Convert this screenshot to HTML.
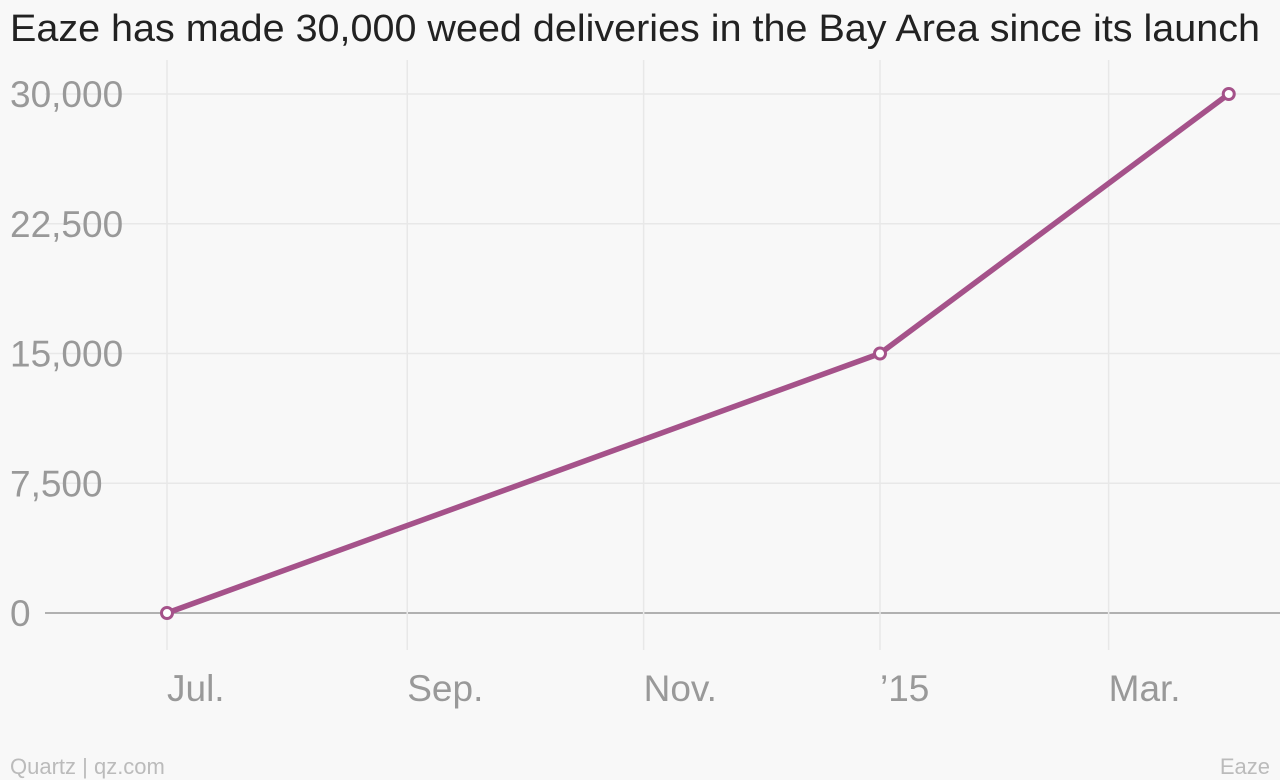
<!DOCTYPE html>
<html><head><meta charset="utf-8"><style>
html,body{margin:0;padding:0;background:#f8f8f8;}
svg{display:block;font-family:"Liberation Sans",sans-serif;}
</style></head><body>
<svg width="1280" height="780" id="c">
<text x="10" y="41" font-size="38" fill="#222" textLength="1250" lengthAdjust="spacingAndGlyphs">Eaze has made 30,000 weed deliveries in the Bay Area since its launch</text>
<text x="10" y="774" font-size="22" fill="#bbb">Quartz | qz.com</text>
<text x="1270" y="774" font-size="22" fill="#bbb" text-anchor="end">Eaze</text>
<g id="grid"></g><g id="plot"></g>
</svg>
<script>
const dates=["2014-07-01","2015-01-01","2015-04-01"];
const values=[0,15000,30000];
const yTicks=[0,7500,15000,22500,30000];
const yTickLabels=["0","7,500","15,000","22,500","30,000"];
const xTicks=["2014-07-01","2014-09-01","2014-11-01","2015-01-01","2015-03-01"];
const xTickLabels=["Jul.","Sep.","Nov.","’15","Mar."];
const NS="http://www.w3.org/2000/svg";
const t0=Date.parse("2014-07-01"),pxDay=713/184;
function x(d){return 167+(Date.parse(d)-t0)/86400000*pxDay;}
function y(v){return 613-v/30000*519;}
function mk(tag,a,p){const e=document.createElementNS(NS,tag);for(const k in a)e.setAttribute(k,a[k]);p.appendChild(e);return e;}
const g=document.getElementById('grid'),p=document.getElementById('plot');
yTicks.forEach((v,i)=>{
 const l=mk('line',{x1:45,x2:1280,y1:y(v),y2:y(v),stroke:v===0?'#999':'#e8e8e8','stroke-width':1.5},g);
 
 
 const t=mk('text',{x:10,y:y(v)+13,'font-size':37,fill:'#999'},g);t.textContent=yTickLabels[i];
 
 
});
xTicks.forEach((d,i)=>{
 const l=mk('line',{x1:x(d),x2:x(d),y1:60,y2:650,stroke:'#e8e8e8','stroke-width':1.5},g);
 
 
 const t=mk('text',{x:x(d),y:701,'font-size':37,fill:'#999'},g);t.textContent=xTickLabels[i];
 
 
});
const path=mk('polyline',{points:dates.map((d,i)=>x(d)+','+y(values[i])).join(' '),fill:'none',stroke:'#a5528a','stroke-width':5.5,'stroke-linejoin':'round'},p);


dates.forEach((d,i)=>{
 const c=mk('circle',{cx:x(d),cy:y(values[i]),r:5.5,fill:'#fff',stroke:'#a5528a','stroke-width':3},p);
 
 
});
</script>
</body></html>
